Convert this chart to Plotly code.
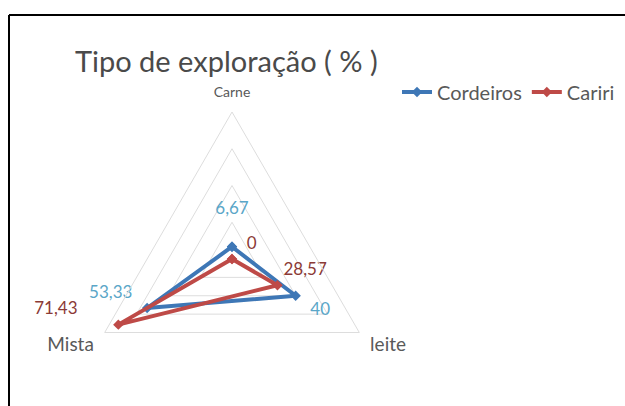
import plotly.graph_objects as go

categories = ["Carne", "leite", "Mista"]
cordeiros = [6.67, 40, 53.33]
cariri = [0, 28.57, 71.43]
series_names = ["Cordeiros", "Cariri"]
title_text = "Tipo de exploração ( % )"

NB = "\u00a0"


def fmt(v):
    s = "%.2f" % v
    if "." in s:
        s = s.rstrip("0").rstrip(".")
    return s.replace(".", ",") if s else "0"


W, H = 625, 406
cx, cy, R = 232, 259, 147
FONT = "Lato"

fig = go.Figure()


def add_series(name, vals, line_color, text_color, positions, lead, trail, pads):
    # plotly hides markers/text lying exactly on the pole of a linear-grid polar,
    # so nudge zero values by a negligible amount for display only
    shown = [v if v > 0 else 1e-6 for v in vals]
    r = shown + [shown[0]]
    th = list(categories) + [categories[0]]
    texts = [NB * a + fmt(v) + NB * b + "<br> " * p
             for v, a, b, p in zip(vals, lead, trail, pads)]
    fig.add_trace(go.Scatterpolar(
        r=r, theta=th, name=name,
        mode="lines+markers+text",
        line=dict(color=line_color, width=4),
        marker=dict(symbol="diamond", size=8, color=line_color),
        text=texts + [""],
        textposition=positions + ["top center"],
        textfont=dict(color=text_color, size=17, family=FONT),
        cliponaxis=False,
    ))


add_series(series_names[0], cordeiros, "#3E77B6", "#5AA6C8",
           ["top center", "bottom right", "top left"], [0, 2, 0], [0, 0, 2], [1, 0, 0])
add_series(series_names[1], cariri, "#BE4A47", "#8B3A36",
           ["top right", "top right", "top left"], [2, 0, 0], [0, 0, 8], [0, 0, 0])

label_sizes = [14, 19, 19]
ticktext = ["<span style='font-size:%dpx'>%s</span>" % (s, c) for c, s in zip(categories, label_sizes)]

fig.update_layout(
    width=W, height=H, autosize=False,
    margin=dict(l=0, r=0, t=0, b=0),
    paper_bgcolor="white", plot_bgcolor="white",
    title=dict(text=title_text, x=75 / W, xanchor="left", y=1 - 62 / H, yanchor="middle",
               font=dict(family=FONT, size=29, color="#4A4A4A")),
    polar=dict(
        domain=dict(x=[(cx - R) / W, (cx + R) / W], y=[0, (2 * R) / H]),
        bgcolor="white",
        gridshape="linear",
        radialaxis=dict(range=[0, 80], tickvals=[20, 40, 60, 80], showticklabels=False,
                        showline=False, ticks="", gridcolor="#DDDDDD", gridwidth=1),
        angularaxis=dict(direction="clockwise", rotation=90, showgrid=False,
                         showline=True, linecolor="#DDDDDD", linewidth=1,
                         ticks="outside", ticklen=9, tickcolor="rgba(0,0,0,0)",
                         tickmode="array", tickvals=categories, ticktext=ticktext,
                         tickfont=dict(family=FONT, size=15, color="#595959")),
    ),
    legend=dict(orientation="h", x=397 / W, xanchor="left", y=1 - 92 / H, yanchor="middle",
                font=dict(family=FONT, size=20, color="#595959"),
                bgcolor="rgba(0,0,0,0)", itemwidth=30),
    shapes=[
        dict(type="line", xref="paper", yref="paper", x0=9 / W, x1=1.0,
             y0=1 - 15 / H, y1=1 - 15 / H, line=dict(color="black", width=2)),
        dict(type="line", xref="paper", yref="paper", x0=9 / W, x1=9 / W,
             y0=0, y1=1 - 15 / H, line=dict(color="black", width=2)),
    ],
)

fig.write_html("out.html")
